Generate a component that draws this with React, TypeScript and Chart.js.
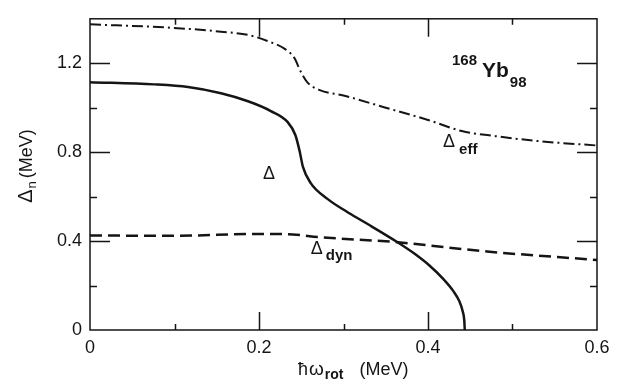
import React, { useEffect, useRef } from 'react';
import { Chart, registerables } from 'chart.js';

Chart.register(...registerables);

// Pairing gap Δ (MeV) against rotational frequency ħω_rot (MeV)
const deltaOmega = [0, 0.076, 0.116, 0.155, 0.187, 0.214, 0.234, 0.243, 0.248, 0.252, 0.261, 0.281, 0.304, 0.323, 0.363, 0.383, 0.402, 0.418, 0.43, 0.437, 0.441, 0.443, 0.4435];
const deltaGap = [1.115, 1.105, 1.093, 1.065, 1.029, 0.985, 0.935, 0.877, 0.806, 0.734, 0.662, 0.59, 0.532, 0.489, 0.397, 0.346, 0.289, 0.23, 0.175, 0.13, 0.085, 0.04, 0];

// Effective gap Δ_eff (MeV)
const effOmega = [0, 0.095, 0.155, 0.19, 0.21, 0.23, 0.242, 0.249, 0.257, 0.272, 0.3, 0.35, 0.4, 0.44, 0.48, 0.53, 0.6];
const effGap = [1.375, 1.36, 1.342, 1.325, 1.3, 1.266, 1.223, 1.165, 1.115, 1.079, 1.055, 1.0, 0.945, 0.895, 0.872, 0.85, 0.83];

// Dynamical gap Δ_dyn (MeV)
const dynOmega = [0, 0.1, 0.2, 0.24, 0.27, 0.36, 0.47, 0.6];
const dynGap = [0.425, 0.424, 0.432, 0.43, 0.418, 0.396, 0.353, 0.315];

// Tick values that carry a number; the rest get a short unlabelled mark
const xTickLabels = [0, 0.2, 0.4, 0.6];
const yTickLabels = [0, 0.4, 0.8, 1.2];

const INK = '#151515';
const FONT = '"Liberation Sans", Arial, Helvetica, sans-serif';

const toPoints = (xs: number[], ys: number[]) => xs.map((x, i) => ({ x, y: ys[i] }));
const isLabelled = (v: number, list: number[]) => list.some((l) => Math.abs(l - v) < 1e-6);
const fmt = (v: number) => String(Math.round(v * 10) / 10);

type Run = { text: string; size: number; weight?: string; dy?: number; gap?: number };

function runsWidth(ctx: CanvasRenderingContext2D, runs: Run[]) {
  return runs.map((r) => {
    ctx.font = `${r.weight ?? 'normal'} ${r.size}px ${FONT}`;
    return ctx.measureText(r.text).width + (r.gap ?? 0);
  });
}

function drawRuns(ctx: CanvasRenderingContext2D, x: number, y: number, runs: Run[], center = false) {
  const widths = runsWidth(ctx, runs);
  const total = widths.reduce((a, b) => a + b, 0);
  let cx = center ? x - total / 2 : x;
  runs.forEach((r, i) => {
    ctx.font = `${r.weight ?? 'normal'} ${r.size}px ${FONT}`;
    ctx.fillText(r.text, cx, y + (r.dy ?? 0));
    cx += widths[i];
  });
}

// Boxed frame with inward tick marks on all four sides, plus the curve labels and axis titles
const framePlugin = {
  id: 'frame',
  afterDraw(chart: any) {
    const { ctx, chartArea: a, scales } = chart;
    const xs = scales.x;
    const ys = scales.y;
    ctx.save();
    ctx.strokeStyle = INK;
    ctx.lineWidth = 1.5;
    ctx.strokeRect(a.left, a.top, a.right - a.left, a.bottom - a.top);

    ctx.beginPath();
    xs.ticks.forEach((t: any) => {
      if (t.value <= xs.min + 1e-9 || t.value >= xs.max - 1e-9) return;
      const len = isLabelled(t.value, xTickLabels) ? 18 : 6;
      const px = Math.round(xs.getPixelForValue(t.value)) + 0.5;
      ctx.moveTo(px, a.bottom);
      ctx.lineTo(px, a.bottom - len);
      ctx.moveTo(px, a.top);
      ctx.lineTo(px, a.top + len);
    });
    ys.ticks.forEach((t: any) => {
      if (t.value <= ys.min + 1e-9 || t.value >= ys.max - 1e-9) return;
      const len = isLabelled(t.value, yTickLabels) ? 20 : 7;
      const py = Math.round(ys.getPixelForValue(t.value)) + 0.5;
      ctx.moveTo(a.left, py);
      ctx.lineTo(a.left + len, py);
      ctx.moveTo(a.right, py);
      ctx.lineTo(a.right - len, py);
    });
    ctx.stroke();

    ctx.fillStyle = INK;
    ctx.textBaseline = 'alphabetic';
    ctx.textAlign = 'left';
    const X = (v: number) => xs.getPixelForValue(v);
    const Y = (v: number) => ys.getPixelForValue(v);

    // Nucleus
    drawRuns(ctx, X(0.4284), Y(1.137), [
      { text: '168', size: 15, weight: 'bold', dy: -12, gap: 5 },
      { text: 'Yb', size: 21, weight: 'bold', gap: 1 },
      { text: '98', size: 15, weight: 'bold', dy: 10 },
    ]);

    // Curve labels
    drawRuns(ctx, X(0.2047), Y(0.678), [{ text: 'Δ', size: 18 }]);
    drawRuns(ctx, X(0.4178), Y(0.825), [
      { text: 'Δ', size: 18, gap: 4 },
      { text: 'eff', size: 15, weight: 'bold', dy: 7 },
    ]);
    drawRuns(ctx, X(0.2612), Y(0.341), [
      { text: 'Δ', size: 18, gap: 3 },
      { text: 'dyn', size: 15, weight: 'bold', dy: 6 },
    ]);

    // x-axis title
    drawRuns(ctx, a.left + 208, a.bottom + 45, [
      { text: 'ħ', size: 18, gap: 1 },
      { text: 'ω', size: 19, gap: 1 },
      { text: 'rot', size: 14, weight: 'bold', dy: 4, gap: 16 },
      { text: '(MeV)', size: 18 },
    ]);

    // y-axis title
    ctx.save();
    ctx.translate(32, 166);
    ctx.rotate(-Math.PI / 2);
    drawRuns(
      ctx,
      0,
      0,
      [
        { text: 'Δ', size: 20, gap: 1 },
        { text: 'n', size: 13, dy: 4, gap: 3 },
        { text: '(MeV)', size: 18 },
      ],
      true
    );
    ctx.restore();

    ctx.restore();
  },
};

export default function App() {
  const canvasRef = useRef<HTMLCanvasElement | null>(null);

  useEffect(() => {
    const canvas = canvasRef.current;
    if (!canvas) return;
    const tickFont = { family: FONT, size: 18 };
    const chart = new Chart(canvas, {
      type: 'line',
      data: {
        datasets: [
          {
            label: 'Δ',
            data: toPoints(deltaOmega, deltaGap),
            borderColor: INK,
            borderWidth: 2.5,
            cubicInterpolationMode: 'monotone',
            pointRadius: 0,
            fill: false,
          },
          {
            label: 'Δeff',
            data: toPoints(effOmega, effGap),
            borderColor: INK,
            borderWidth: 2,
            borderDash: [11, 4, 2, 4],
            cubicInterpolationMode: 'monotone',
            pointRadius: 0,
            fill: false,
          },
          {
            label: 'Δdyn',
            data: toPoints(dynOmega, dynGap),
            borderColor: INK,
            borderWidth: 2.5,
            borderDash: [12, 6],
            cubicInterpolationMode: 'monotone',
            pointRadius: 0,
            fill: false,
          },
        ],
      },
      options: {
        responsive: false,
        animation: false,
        devicePixelRatio: 1,
        layout: { padding: { left: 0, right: 20, top: 5, bottom: 0 } },
        plugins: { legend: { display: false }, tooltip: { enabled: false } },
        elements: { point: { radius: 0 } },
        scales: {
          x: {
            type: 'linear',
            min: 0,
            max: 0.6,
            grid: { display: false, drawTicks: false },
            border: { display: false },
            ticks: {
              stepSize: 0.1,
              autoSkip: false,
              maxRotation: 0,
              padding: 7,
              color: INK,
              font: tickFont,
              callback: (v: any) => (isLabelled(Number(v), xTickLabels) ? fmt(Number(v)) : ''),
            },
            afterFit: (s: any) => {
              s.height = 57;
            },
          },
          y: {
            type: 'linear',
            min: 0,
            max: 1.4,
            grid: { display: false, drawTicks: false },
            border: { display: false },
            ticks: {
              stepSize: 0.2,
              autoSkip: false,
              padding: 8,
              color: INK,
              font: tickFont,
              callback: (v: any) => (isLabelled(Number(v), yTickLabels) ? fmt(Number(v)) : ''),
            },
            afterFit: (s: any) => {
              s.width = 90;
            },
          },
        },
      } as any,
      plugins: [framePlugin],
    });
    return () => chart.destroy();
  }, []);

  return (
    <div style={{ position: 'absolute', left: 0, top: 0, width: 617, height: 387, background: '#fff' }}>
      <canvas ref={canvasRef} width={617} height={387} />
    </div>
  );
}
